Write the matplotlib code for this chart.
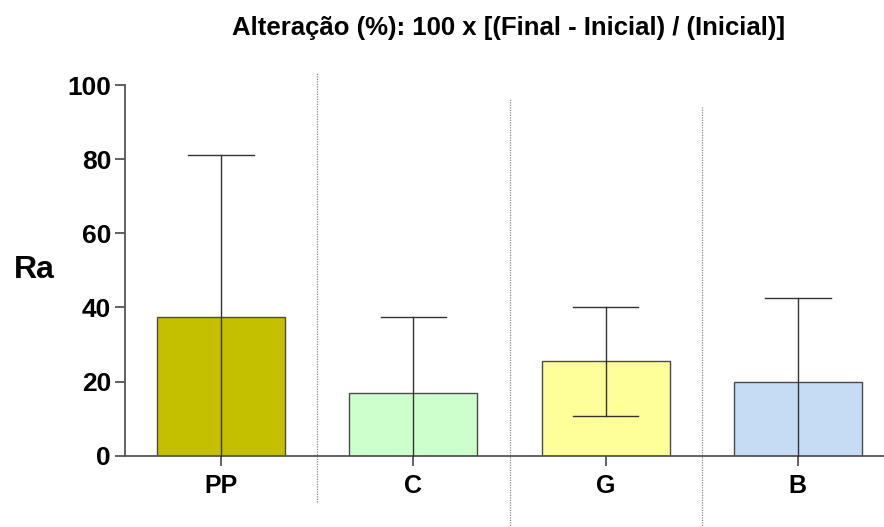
import matplotlib
matplotlib.use("Agg")
import matplotlib.pyplot as plt
from matplotlib.lines import Line2D

plt.rcParams['font.family'] = ['Liberation Sans', 'DejaVu Sans']

categories = ["PP", "C", "G", "B"]
means = [37.3, 16.8, 25.5, 20.0]
sd = [43.8, 20.5, 14.7, 22.5]
colors = ["#c4c000", "#ccffcc", "#ffff99", "#c6dbf4"]
yticks = [0, 20, 40, 60, 80, 100]

W, H = 884, 527
fig = plt.figure(figsize=(W / 100, H / 100), dpi=100)
ax = fig.add_axes([125 / W, 71.3 / H, 769 / W, 370.7 / H])

x = list(range(len(categories)))
axis_col = "#555555"
ax.bar(x, means, width=0.667, color=colors, edgecolor="#4a4a4a", linewidth=1.0, zorder=2)

# error bars, lower whisker clipped at the baseline
for xi, m, s in zip(x, means, sd):
    lo = max(m - s, 0)
    ax.plot([xi, xi], [lo, m + s], color="#333333", lw=1.0, zorder=3, clip_on=False)
    ax.plot([xi - 0.17, xi + 0.17], [m + s, m + s], color="#333333", lw=1.0, zorder=3)
    if m - s > 0:
        ax.plot([xi - 0.17, xi + 0.17], [lo, lo], color="#333333", lw=1.0, zorder=3)

# dotted separators between groups
seps = [(0.5, -12.4, 103.6), (1.5, -19.5, 96.5), (2.5, -19.5, 94.1)]
for sx, y0, y1 in seps:
    ax.add_line(Line2D([sx, sx], [y0, y1], color="#888888", lw=0.9,
                       linestyle=(0, (1, 1)), clip_on=False, zorder=1))

ax.set_xlim(-0.5, 3.5)
ax.set_ylim(0, 100)
ax.set_yticks(yticks)
ax.set_yticklabels([str(v) for v in yticks], fontsize=19, fontweight="bold")
ax.set_xticks(x)
ax.set_xticklabels(categories, fontsize=18, fontweight="bold")

for side in ["top", "right"]:
    ax.spines[side].set_visible(False)
for side in ["left", "bottom"]:
    ax.spines[side].set_color(axis_col)
    ax.spines[side].set_linewidth(1.3)
ax.tick_params(axis="y", length=7, width=1.3, color=axis_col, pad=3)
ax.tick_params(axis="x", length=7, width=1.3, color=axis_col, pad=6)

fig.text(34 / W, 1 - 270 / H, "Ra", fontsize=23, fontweight="bold",
         ha="center", va="center")
fig.text(509 / W, 1 - 34.5 / H,
         "Alteração (%): 100 x [(Final - Inicial) / (Inicial)]",
         fontsize=18.5, fontweight="bold", ha="center", va="baseline")

fig.savefig("out.png", dpi=100)
